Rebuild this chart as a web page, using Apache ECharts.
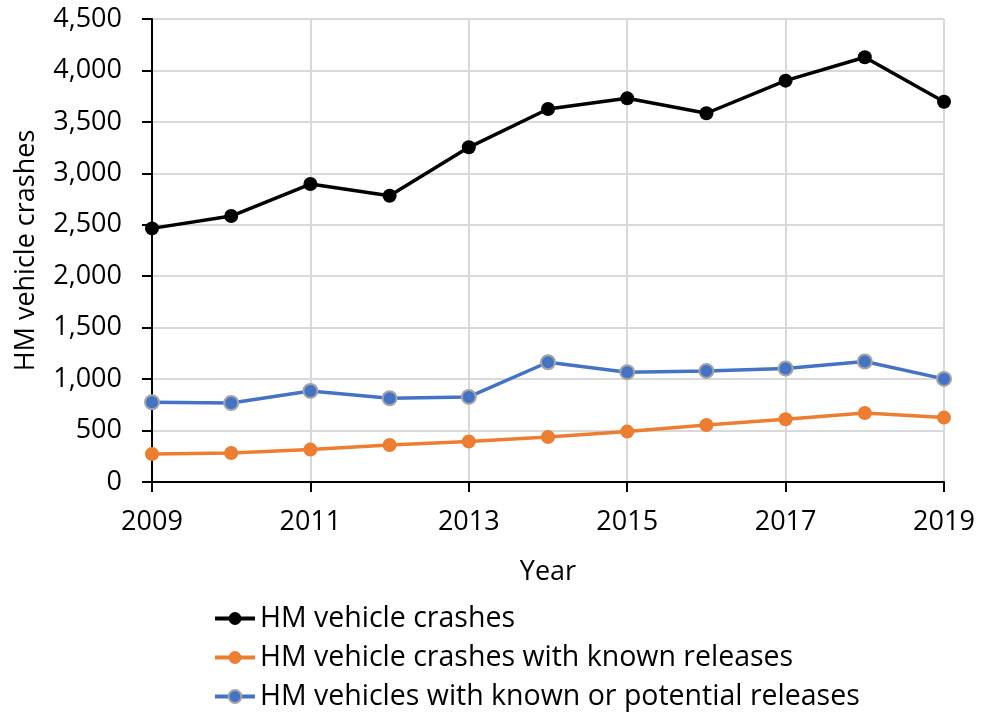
<!DOCTYPE html>
<html>
<head>
<meta charset="utf-8">
<script src="https://cdn.jsdelivr.net/npm/echarts@6/dist/echarts.min.js"></script>
<style>
html,body{margin:0;padding:0;background:#fff;}
#chart{width:982px;height:712px;}
</style>
</head>
<body>
<div id="chart"></div>
<script>
// Hazardous-material vehicle crash counts by year
const years = [2009, 2010, 2011, 2012, 2013, 2014, 2015, 2016, 2017, 2018, 2019];
const crashes = [2465, 2585, 2896, 2782, 3253, 3625, 3729, 3584, 3901, 4128, 3696];
const crashesKnownReleases = [272, 282, 315, 360, 393, 438, 490, 554, 610, 671, 626];
const vehiclesKnownOrPotential = [775, 768, 885, 814, 827, 1164, 1067, 1080, 1103, 1171, 1002];
const seriesNames = [
  'HM vehicle crashes',
  'HM vehicle crashes with known releases',
  'HM vehicles with known or potential releases'
];

const FONT = '"Open Sans", "Noto Sans", sans-serif';
const FS = 27;
const pairs = arr => years.map((y, i) => [y, arr[i]]);

const chart = echarts.init(document.getElementById('chart'), null, {renderer: 'canvas'});
chart.setOption({
  animation: false,
  textStyle: {fontFamily: FONT},
  grid: {left: 152, right: 38, top: 19, bottom: 230, containLabel: false},
  xAxis: {
    type: 'value',
    min: 2009, max: 2019, interval: 2,
    name: 'Year', nameLocation: 'middle', nameGap: 77,
    nameTextStyle: {fontSize: FS, color: '#000', fontFamily: FONT},
    axisLine: {show: true, lineStyle: {color: '#000', width: 2}},
    axisTick: {show: true, length: 10, lineStyle: {color: '#000', width: 2}},
    axisLabel: {fontSize: FS, color: '#000', margin: 27, fontFamily: FONT, formatter: v => String(v)},
    splitLine: {show: true, lineStyle: {color: '#d9d9d9', width: 2}}
  },
  yAxis: {
    type: 'value',
    min: 0, max: 4500, interval: 500,
    name: 'HM vehicle crashes', nameLocation: 'middle', nameGap: 112, nameRotate: 90,
    nameTextStyle: {fontSize: FS, color: '#000', fontFamily: FONT},
    axisLine: {show: true, lineStyle: {color: '#000', width: 2}},
    axisTick: {show: true, length: 10, lineStyle: {color: '#000', width: 2}},
    axisLabel: {fontSize: FS, color: '#000', margin: 30, fontFamily: FONT,
      formatter: v => v.toLocaleString('en-US')},
    splitLine: {show: true, lineStyle: {color: '#d9d9d9', width: 2}}
  },
  legend: {
    orient: 'vertical',
    left: 213, top: 604, height: 108,
    padding: 0,
    itemWidth: 40, itemHeight: 16, itemGap: 10,
    lineStyle: {width: 4},
    textStyle: {fontSize: 28.5, color: '#000', fontFamily: FONT},
    data: seriesNames
  },
  series: [
    {
      name: seriesNames[0], type: 'line', data: pairs(crashes),
      symbol: 'circle', symbolSize: 14,
      lineStyle: {color: '#000', width: 3.5},
      itemStyle: {color: '#000'}
    },
    {
      name: seriesNames[1], type: 'line', data: pairs(crashesKnownReleases),
      symbol: 'circle', symbolSize: 14,
      lineStyle: {color: '#ED7D31', width: 3.5},
      itemStyle: {color: '#ED7D31'}
    },
    {
      name: seriesNames[2], type: 'line', data: pairs(vehiclesKnownOrPotential),
      symbol: 'circle', symbolSize: 14,
      lineStyle: {color: '#4472C4', width: 3.5},
      itemStyle: {color: '#4472C4', borderColor: '#A5A5A5', borderWidth: 2}
    }
  ]
});
</script>
</body>
</html>
